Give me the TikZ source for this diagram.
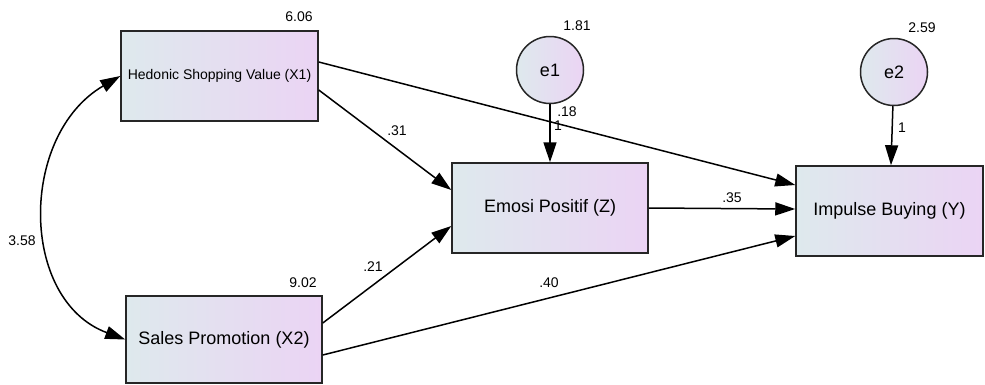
\documentclass[tikz,border=0pt]{standalone}
\usepackage{fontspec}
\setmainfont{Liberation Sans}
\usetikzlibrary{arrows.meta}
\definecolor{gl}{RGB}{222,233,237}
\definecolor{gr}{RGB}{235,212,244}
\tikzset{
  var/.style={draw=black!85, line width=1.5pt, left color=gl, right color=gr,
    minimum width=#1, minimum height=90pt, inner sep=0pt, font=\fontsize{18}{20}\selectfont},
  err/.style={circle, draw=black!85, line width=1.5pt, left color=gl, right color=gr,
    minimum size=67pt, inner sep=0pt, font=\fontsize{18}{20}\selectfont},
  num/.style={inner sep=0pt, font=\fontsize{14}{16}\selectfont},
  path/.style={line width=1.5pt, -{Triangle[length=20pt,width=13pt]}},
}
\begin{document}
\begin{tikzpicture}[x=1pt,y=-1pt]
\useasboundingbox (0,0) rectangle (985,384);
\node[var=197pt] (X1) at (219.5,76) {\fontsize{14}{16}\selectfont Hedonic Shopping Value (X1)};
\node[var=196pt, minimum height=87pt] (X2) at (224,339.5) {Sales Promotion (X2)};
\node[var=196pt] (Z) at (550,208) {Emosi Positif (Z)};
\node[var=187pt] (Y) at (889.5,211) {Impulse Buying (Y)};
\node[err] (e1) at (550,70) {e1};
\node[err] (e2) at (894,72) {e2};

\node[num] (l606) at (299,17) {6.06};
\node[num] (l902) at (303,283) {9.02};
\node[num] (l181) at (577,26) {1.81};
\node[num] (l259) at (922,28) {2.59};
\node[num] (l358) at (22,241) {3.58};
\node[num] (l31) at (397,131) {.31};
\node[num] (l21) at (373,267) {.21};
\node[num] (l40) at (549,283) {.40};
\node[num] (l35) at (732,198) {.35};
\node[num] (l18) at (567,112) {.18};
\node[num] (l1a) at (558,126) {1};
\node[num] (l1b) at (902,128) {1};

\draw[path] ([yshift=14pt]X1.east) -- ([yshift=26pt]Y.west);
\draw[path] ([yshift=-14pt]X1.east) -- ([yshift=18pt]Z.west);
\draw[path] ([yshift=16.5pt]X2.east) -- ([yshift=-18pt]Z.west);
\draw[path] ([yshift=-15.5pt]X2.east) -- ([yshift=-25pt]Y.west);
\draw[path] (Z.east) -- ([yshift=2pt]Y.west);
\draw[path] (e1) -- (Z);
\draw[path] (e2) -- (Y);
\draw[line width=1.5pt, {Triangle[length=20pt,width=13pt]}-{Triangle[length=20pt,width=13pt]}]
  (X1.west) .. controls (19,135) and (19,300) .. (X2.west);
\end{tikzpicture}
\end{document}
